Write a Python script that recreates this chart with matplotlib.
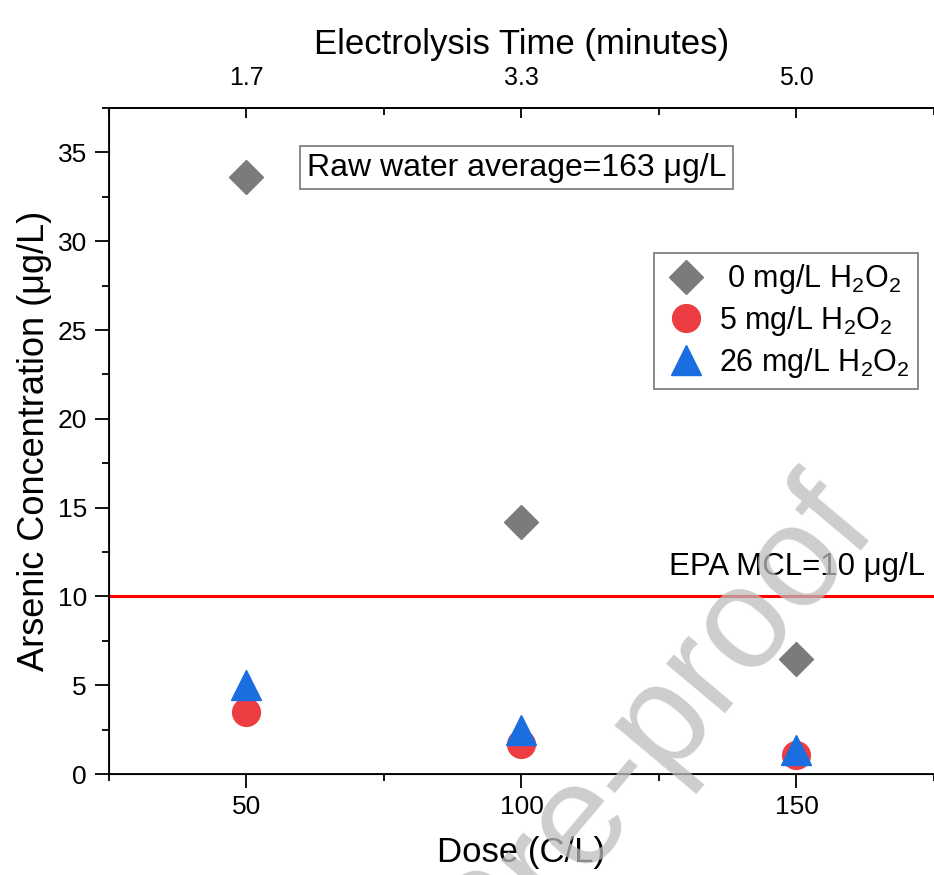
import matplotlib
matplotlib.use("Agg")
import matplotlib.pyplot as plt
from matplotlib.ticker import MultipleLocator, FixedLocator


# data
dose = [50, 100, 150]              # C/L
time_min = [1.7, 3.3, 5.0]         # electrolysis time at each dose
as_h2o2_0 = [33.6, 14.2, 6.5]      # ug/L
as_h2o2_5 = [3.5, 1.7, 1.05]
as_h2o2_26 = [5.0, 2.5, 1.35]
labels = [r" 0 mg/L H$_2$O$_2$", r"5 mg/L H$_2$O$_2$", r"26 mg/L H$_2$O$_2$"]
epa_mcl = 10
raw_avg = 163

plt.rcParams["font.family"] = ["Liberation Sans", "DejaVu Sans"]
plt.rcParams["mathtext.fontset"] = "custom"
plt.rcParams["mathtext.rm"] = "Liberation Sans"
plt.rcParams["mathtext.it"] = "Liberation Sans:italic"


def main():
    fig = plt.figure(figsize=(9.34, 8.75), dpi=100)
    ax = fig.add_axes([0.1167, 0.1154, 0.8833, 0.7611])

    ax.axhline(epa_mcl, color="#ff0000", lw=2.2, zorder=2)

    ax.plot(dose, as_h2o2_0, ls="none", marker="D", ms=17.5, color="#7b7b7b",
            label=labels[0], zorder=3)
    ax.plot(dose, as_h2o2_5, ls="none", marker="o", ms=20, color="#ee3d42",
            label=labels[1], zorder=3)
    ax.plot(dose, as_h2o2_26, ls="none", marker="^", ms=22, color="#1a6ee0",
            label=labels[2], zorder=4)

    ax.set_xlim(25, 175)
    ax.set_ylim(0, 37.5)
    ax.xaxis.set_major_locator(FixedLocator(dose))
    ax.xaxis.set_minor_locator(FixedLocator([25, 75, 125, 175]))
    ax.yaxis.set_major_locator(MultipleLocator(5))
    ax.yaxis.set_minor_locator(MultipleLocator(2.5))

    for s in ["left", "bottom", "top"]:
        ax.spines[s].set_linewidth(1.3)
    ax.spines["right"].set_visible(False)
    ax.tick_params(axis="x", which="major", direction="out", length=10, width=1.3,
                   labelsize=19, pad=5)
    ax.tick_params(axis="x", which="minor", direction="out", length=5, width=1.3)
    ax.tick_params(axis="y", which="major", direction="out", length=10, width=1.3,
                   labelsize=19, pad=6)
    ax.tick_params(axis="y", which="minor", direction="out", length=5, width=1.3)

    ax.set_xlabel("Dose (C/L)", fontsize=25, labelpad=12)
    ax.set_ylabel("Arsenic Concentration (\u03bcg/L)", fontsize=26, labelpad=4)

    top = ax.twiny()
    top.set_xlim(ax.get_xlim())
    top.xaxis.set_major_locator(FixedLocator(dose))
    top.xaxis.set_minor_locator(FixedLocator([25, 75, 125, 175]))
    top.set_xticklabels(["%.1f" % t for t in time_min])
    top.spines["right"].set_visible(False)
    top.spines["top"].set_linewidth(1.3)
    top.tick_params(axis="x", which="major", direction="in", length=7.5, width=1.3,
                    labelsize=18, pad=13)
    top.tick_params(axis="x", which="minor", direction="in", length=5, width=1.3)
    top.set_xlabel("Electrolysis Time (minutes)", fontsize=25, labelpad=9)

    ax.text(99.1, 34.15, "Raw water average=%d \u03bcg/L" % raw_avg, fontsize=23,
            ha="center", va="center",
            bbox=dict(boxstyle="square,pad=0.2", fc="white", ec="#777777", lw=1.2))
    ax.text(173.4, 11.2, "EPA MCL=%d \u03bcg/L" % epa_mcl, fontsize=22.5,
            ha="right", va="baseline")

    leg = ax.legend(loc="upper right", bbox_to_anchor=(0.981, 0.782),
                    borderaxespad=0, fontsize=22, fancybox=False,
                    edgecolor="#777777", framealpha=1, handletextpad=0.3,
                    labelspacing=0.25, borderpad=0.3, handlelength=1.5)
    leg.get_frame().set_linewidth(1.2)

    # journal watermark
    fig.text(880 / 934, 1 - 530 / 875, "Journal Pre-proof", fontsize=104,
             color="#bdbdbd", alpha=0.75, rotation=50, rotation_mode="anchor",
             ha="right", va="baseline", zorder=10)

    fig.savefig("out.png", dpi=100)


if __name__ == "__main__":
    main()
